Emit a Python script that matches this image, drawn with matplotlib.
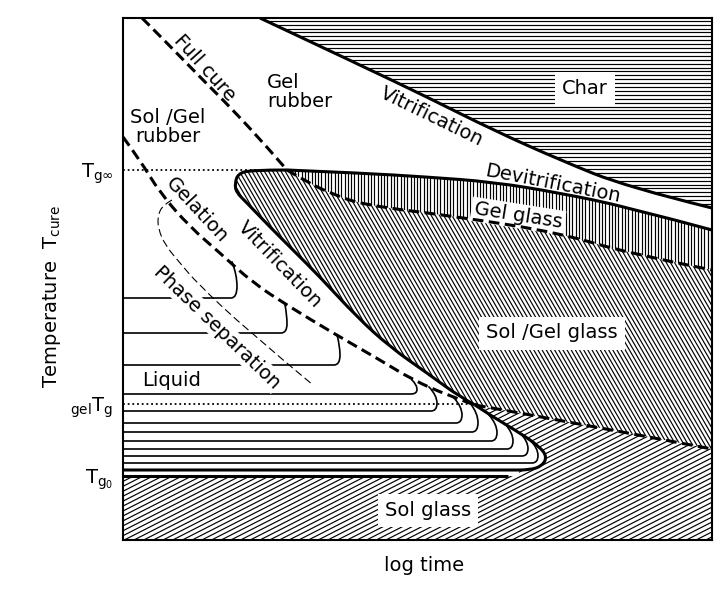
import numpy as np
import matplotlib.pyplot as plt
from matplotlib.path import Path
from matplotlib.patches import Polygon
from matplotlib.collections import LineCollection

plt.rcParams['font.family'] = 'DejaVu Sans'
plt.rcParams['mathtext.fontset'] = 'dejavusans'

# schematic TTT diagram, arbitrary units: log time 0..589, T_cure 0..522
T_G0 = 64
T_GEL = 136
T_GINF = 370
TG_INF_END = 164
GEL_TG_END = 354

# vitrification into char
char_t = [137, 237, 304, 370, 437, 504, 589]
char_T = [522, 475, 443, 410, 380, 353, 332]

# full cure, above and below T_g_inf
fc_up_t = [19, 44, 77, 110, 144, 164]
fc_up_T = [522, 497, 463, 430, 393, 370]
fc_low_t = [164, 184, 207, 240, 337, 437, 504, 589]
fc_low_T = [370, 358, 347, 335, 323, 307, 287, 270]

# devitrification (top of glass region)
devit_t = [164, 237, 304, 370, 437, 504, 589]
devit_T = [370, 367, 363, 358, 347, 333, 310]

# vitrification S-curve, from gelation crossing up to the T_g_inf corner
vit_t = [352, 337, 304, 267, 234, 197, 170, 147, 124, 113, 112, 115, 127, 164]
vit_T = [135, 143, 167, 193, 223, 263, 290, 313, 337, 348, 357, 366, 370, 370]

# vitrification nose, below gelation crossing
nose_t = [352, 370, 397, 417, 424, 419, 407, 385, 0]
nose_T = [135, 123, 107, 93, 83, 74, 70, 70, 70]

# gelation
gel_left_t = [0, 17, 37, 67, 97, 130, 167, 210, 257, 290, 324, 352]
gel_left_T = [403, 380, 347, 313, 287, 257, 233, 207, 180, 160, 145, 135]
gel_right_t = [352, 437, 589]
gel_right_T = [135, 120, 91]

# phase separation boundary
phase_t = [49, 40, 35, 35, 42, 57, 74, 124, 190]
phase_T = [340, 335, 325, 312, 295, 277, 257, 210, 155]

# isotherm hooks: level, farthest reach, end point on boundary
iso_T = [242, 207, 175, 146, 129, 117, 108, 99, 91, 84, 77]
iso_reach = [114, 164, 217, 294, 314, 339, 355, 374, 390, 405, 415]
iso_end_t = [109, 162, 214, 289, 306, 331, 347, 366, 382, 397, 407]
iso_end_T = [278, 235, 205, 160, 153, 142, 137, 125, 116, 107, 100]


def smooth(ts, Ts):
    p = np.column_stack([ts, Ts]).astype(float)
    n = len(p)
    verts = [p[0]]
    codes = [Path.MOVETO]
    if n == 2:
        verts.append(p[1])
        codes.append(Path.LINETO)
    for i in range(1, n - 1):
        end = p[-1] if i == n - 2 else (p[i] + p[i + 1]) / 2
        verts += [p[i], end]
        codes += [Path.CURVE3, Path.CURVE3]
    return Path(verts, codes).to_polygons(closed_only=False)[0]


def hatch_region(ax, pts, angle, spacing, lw=0.85):
    patch = Polygon(pts, closed=True, facecolor='white', edgecolor='none', zorder=1)
    ax.add_patch(patch)
    th = np.radians(angle)
    d = np.array([np.cos(th), np.sin(th)])
    nrm = np.array([-d[1], d[0]])
    centre = np.array([295.0, 261.0])
    segs = [[centre + o * nrm - 900 * d, centre + o * nrm + 900 * d]
            for o in np.arange(-900, 900, spacing)]
    lc = LineCollection(segs, colors='black', linewidths=lw, zorder=1.5)
    lc.set_clip_path(patch)
    ax.add_collection(lc)


char = smooth(char_t, char_T)
fc_up = smooth(fc_up_t, fc_up_T)
fc_low = smooth(fc_low_t, fc_low_T)
devit = smooth(devit_t, devit_T)
vit = smooth(vit_t, vit_T)
nose = smooth(nose_t, nose_T)
gel_left = smooth(gel_left_t, gel_left_T)
gel_right = smooth(gel_right_t, gel_right_T)
phase = smooth(phase_t, phase_T)

fig = plt.figure(figsize=(7.23, 5.90), dpi=100)
ax = fig.add_axes([123 / 723, 50 / 590, 589 / 723, 522 / 590])
ax.set_xlim(0, 589)
ax.set_ylim(0, 522)

# hatched regions
xmax, ymax = 589, 522
cut = np.argmax((nose[:, 0] < 390) & (nose[:, 1] < 80))
hatch_region(ax, np.vstack([char, [[xmax, ymax]]]), 0, 3.9)
hatch_region(ax, np.vstack([devit, fc_low[::-1]]), 90, 3.3)
hatch_region(ax, np.vstack([fc_low, gel_right[::-1], vit]), -60, 3.6)
hatch_region(ax, np.vstack([[[0, 0], [xmax, 0]], gel_right[::-1], nose[:cut],
                            [[nose[cut - 1, 0], T_G0], [0, T_G0]]]), 27, 4.4)

# isotherms
for T, reach, te, Te in zip(iso_T, iso_reach, iso_end_t, iso_end_T):
    rise = Te - T
    hook = smooth([0, reach - 12, reach, reach, te], [T, T, T, Te - 0.35 * rise, Te])
    ax.plot(hook[:, 0], hook[:, 1], color='black', lw=1.2, zorder=2)

solid = dict(color='black', lw=2.2, zorder=5, solid_capstyle='butt')
dashed = dict(color='black', lw=2.2, zorder=5, linestyle=(0, (3.5, 1.8)))
for c in (char, devit, vit, nose):
    ax.plot(c[:, 0], c[:, 1], **solid)
ax.plot([0, nose_t[-2]], [T_G0, T_G0], **solid)
for c in (fc_up, fc_low, gel_left, gel_right):
    ax.plot(c[:, 0], c[:, 1], **dashed)
ax.plot(phase[:, 0], phase[:, 1], color='black', lw=0.8, zorder=5,
        linestyle=(0, (7, 3.5)))
dotted = dict(color='black', lw=1.3, zorder=3, linestyle=(0, (1, 1.6)))
ax.plot([0, TG_INF_END], [T_GINF, T_GINF], **dotted)
ax.plot([0, GEL_TG_END], [T_GEL, T_GEL], **dotted)

# labels
fs = 14
box = dict(facecolor='white', edgecolor='none', pad=2)
ax.text(82, 472, 'Full cure', rotation=-48, fontsize=fs, ha='center', va='center', zorder=4)
ax.text(144, 448, 'Gel\nrubber', fontsize=fs, ha='left', va='center', linespacing=1.0, zorder=4)
ax.text(45, 413, 'Sol /Gel\nrubber', fontsize=fs, ha='center', va='center',
        multialignment='center', linespacing=1.0, zorder=4)
ax.text(309, 423, 'Vitrification', rotation=-26, fontsize=fs, ha='center', va='center', zorder=4)
ax.text(462, 452, 'Char', fontsize=fs, ha='center', va='center', bbox=dict(box, pad=5), zorder=4)
ax.text(430, 356, 'Devitrification', rotation=-11, fontsize=fs, ha='center', va='center', zorder=4)
ax.text(395, 324, 'Gel glass', rotation=-9, fontsize=fs, ha='center', va='center', bbox=box, zorder=4)
ax.text(429, 207, 'Sol /Gel glass', fontsize=fs, ha='center', va='center', bbox=dict(box, pad=5), zorder=4)
ax.text(305, 30, 'Sol glass', fontsize=fs, ha='center', va='center', bbox=dict(box, pad=5), zorder=4)
ax.text(74, 330, 'Gelation', rotation=-47, fontsize=fs, ha='center', va='center', zorder=4)
ax.text(157, 275, 'Vitrification', rotation=-46, fontsize=fs, ha='center', va='center', zorder=4)
ax.text(94, 213, 'Phase separation', rotation=-44, fontsize=fs, ha='center', va='center',
        bbox=dict(box, pad=1), zorder=4)
ax.text(49, 160, 'Liquid', fontsize=fs, ha='center', va='center', zorder=4)

ax.set_xticks([])
ax.set_yticks([T_G0, T_GEL, T_GINF])
ax.set_yticklabels([r'$\mathrm{T_{g_0}}$', r'$_{\mathrm{gel}}\mathrm{T_g}$', r'$\mathrm{T_{g\infty}}$'],
                   fontsize=fs)
ax.tick_params(axis='y', length=0, pad=7)
ax.set_ylabel(r'Temperature  $\mathrm{T_{cure}}$', fontsize=fs)
ax.yaxis.set_label_coords(-0.102, 0.467)
ax.set_xlabel('log time', fontsize=fs)
ax.xaxis.set_label_coords(0.511, -0.03)
for s in ax.spines.values():
    s.set_linewidth(1.5)
    s.set_zorder(6)

plt.savefig('out.png', dpi=100)
